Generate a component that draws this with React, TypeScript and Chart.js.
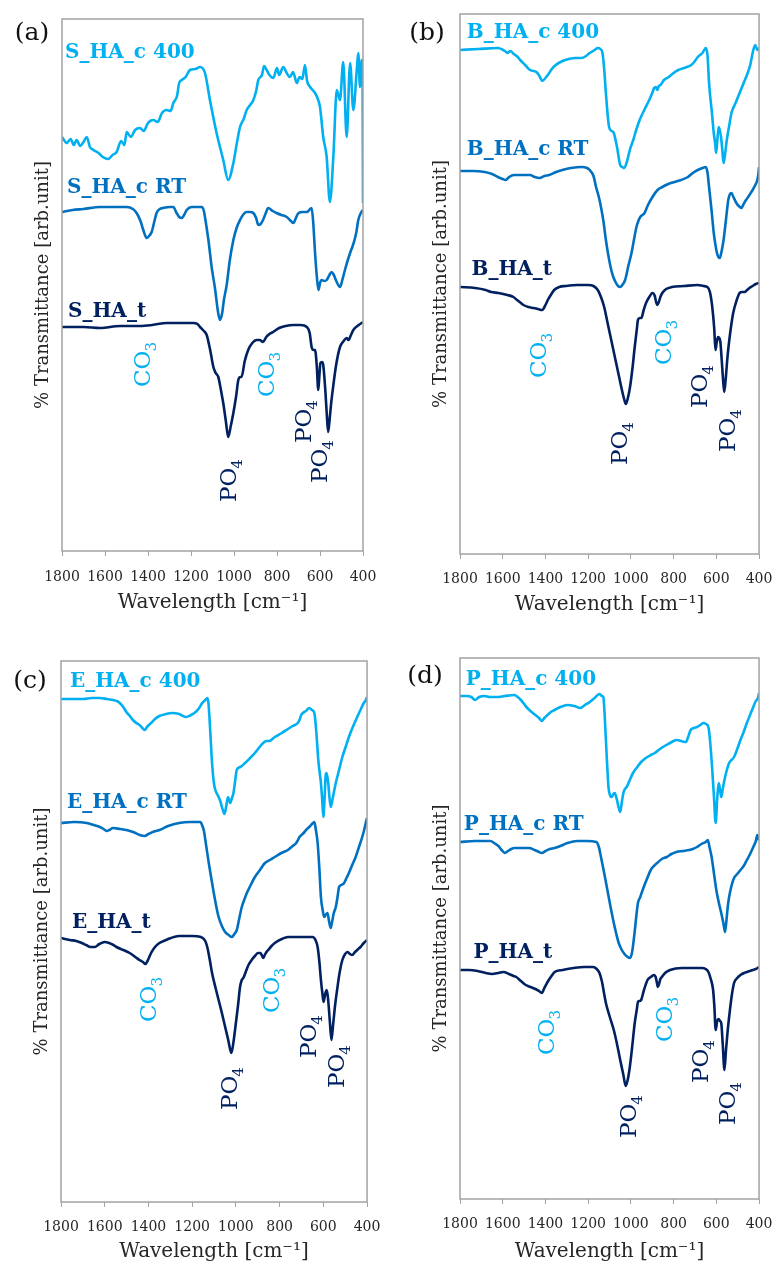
import React, { useEffect, useRef } from 'react';
import { Chart, registerables } from 'chart.js';

Chart.register(...registerables);

type Pt = [number, number];

// ---------- axis ----------
const X_MIN = 400;
const X_MAX = 1800;
const X_STEP = 200;

// ---------- series names ----------
const NAMES_A = ['S_HA_c 400', 'S_HA_c RT', 'S_HA_t'];
const NAMES_B = ['B_HA_c 400', 'B_HA_c RT', 'B_HA_t'];
const NAMES_C = ['E_HA_c 400', 'E_HA_c RT', 'E_HA_t'];
const NAMES_D = ['P_HA_c 400', 'P_HA_c RT', 'P_HA_t'];

// ---------- panel (a) ----------
const S_HA_C400: Pt[] = [[1800,414],[1778,408],[1760,412],[1745,406],[1732,411],[1715,405],[1700,409],[1685,414],[1670,404],[1654,401],[1630,398],[1610,394],[1585,392],[1565,396],[1546,399],[1525,410],[1510,406],[1499,419],[1480,414],[1460,421],[1437,423],[1420,420],[1400,428],[1375,431],[1355,429],[1335,438],[1313,441],[1295,440],[1282,448],[1265,455],[1255,468],[1243,471],[1225,474],[1205,481],[1180,482],[1158,484],[1135,478],[1112,451],[1081,418],[1050,391],[1027,371],[1003,388],[985,410],[972,424],[955,432],[941,441],[925,446],[910,451],[897,460],[887,471],[870,476],[860,485],[848,481],[835,476],[817,473],[800,483],[790,476],[771,484],[755,478],[740,474],[725,479],[708,468],[695,474],[682,472],[670,486],[660,470],[646,464],[623,458],[610,452],[600,444],[585,414],[569,394],[554,349],[538,394],[522,461],[507,451],[492,489],[476,414],[460,488],[445,441],[429,481],[422,498],[414,464],[406,491],[402,470],[400,348]];
const S_HA_CRT: Pt[] = [[1800,339],[1750,341],[1701,342],[1623,344],[1550,344],[1499,344],[1470,342],[1453,338],[1435,330],[1422,321],[1406,313],[1395,315],[1383,319],[1370,330],[1360,338],[1345,342],[1329,343],[1300,344],[1282,344],[1267,338],[1255,334],[1243,333],[1232,336],[1220,341],[1197,344],[1170,344],[1150,344],[1140,340],[1135,334],[1119,311],[1104,284],[1088,262],[1075,240],[1065,231],[1055,238],[1047,251],[1034,266],[1020,290],[1003,311],[988,323],[972,331],[955,337],[941,339],[925,339],[910,338],[897,333],[887,326],[876,327],[865,331],[852,338],[841,343],[820,340],[802,338],[780,336],[755,334],[740,331],[724,328],[712,333],[700,338],[680,339],[661,339],[650,341],[639,343],[632,330],[623,298],[615,275],[607,261],[600,268],[592,271],[580,270],[569,271],[556,276],[546,279],[538,277],[530,273],[520,268],[507,264],[495,272],[484,281],[472,290],[460,298],[448,305],[437,313],[430,320],[422,331],[410,338],[400,341]];
const S_HA_T: Pt[] = [[1800,224],[1700,224],[1623,223],[1530,225],[1437,225],[1380,226],[1313,228],[1250,228],[1190,228],[1170,227],[1158,224],[1140,220],[1127,216],[1110,200],[1096,184],[1085,178],[1073,174],[1060,160],[1050,148],[1038,130],[1027,114],[1015,125],[1003,138],[990,155],[980,171],[970,174],[965,174],[950,190],[934,201],[915,208],[895,211],[880,211],[865,209],[850,214],[835,217],[818,219],[790,223],[760,225],[724,226],[690,226],[661,224],[648,218],[639,204],[630,201],[623,201],[615,185],[608,161],[603,175],[598,188],[591,189],[585,186],[575,160],[568,135],[562,119],[555,132],[548,148],[539,164],[525,186],[507,204],[490,210],[476,213],[468,211],[456,216],[445,221],[420,226],[400,229]];

// ---------- panel (b) ----------
const B_HA_C400: Pt[] = [[1800,504],[1714,505],[1623,506],[1590,503],[1578,501],[1565,503],[1548,500],[1530,497],[1518,494],[1495,489],[1472,484],[1455,483],[1442,482],[1428,478],[1415,473],[1400,476],[1389,479],[1370,485],[1352,489],[1320,493],[1291,495],[1260,496],[1231,496],[1210,498],[1193,501],[1170,504],[1155,506],[1143,505],[1133,501],[1125,485],[1117,461],[1102,427],[1090,423],[1080,421],[1065,407],[1050,389],[1040,387],[1031,386],[1019,392],[1005,404],[989,414],[975,424],[959,434],[935,445],[914,454],[900,461],[891,466],[883,467],[876,464],[869,468],[861,469],[845,474],[823,477],[800,481],[778,484],[750,486],[717,489],[700,493],[687,497],[665,501],[649,506],[641,498],[634,471],[620,440],[612,421],[605,410],[601,401],[596,412],[589,427],[584,424],[578,417],[572,404],[566,391],[559,400],[551,414],[540,428],[529,441],[510,451],[491,461],[472,471],[453,481],[440,490],[430,501],[418,509],[412,506],[408,504],[400,506]];
const B_HA_CRT: Pt[] = [[1800,383],[1740,383],[1684,382],[1650,380],[1623,377],[1600,375],[1586,374],[1570,377],[1548,379],[1500,379],[1472,379],[1450,377],[1427,376],[1405,378],[1382,379],[1350,382],[1321,384],[1280,386],[1231,387],[1205,386],[1193,384],[1175,378],[1163,367],[1150,357],[1140,347],[1128,332],[1117,314],[1105,298],[1095,287],[1084,278],[1072,272],[1060,268],[1050,267],[1040,269],[1027,274],[1012,288],[997,301],[985,315],[974,327],[965,333],[956,337],[946,339],[936,341],[920,349],[899,357],[875,364],[853,367],[825,370],[796,372],[765,374],[733,377],[710,381],[687,384],[665,386],[649,387],[641,381],[634,367],[622,343],[612,321],[604,309],[597,301],[590,297],[584,296],[575,303],[566,314],[555,334],[544,354],[536,360],[529,361],[520,357],[506,351],[495,348],[483,346],[472,350],[461,354],[445,359],[430,364],[420,368],[408,374],[403,380],[400,387]];
const B_HA_T: Pt[] = [[1800,267],[1729,266],[1680,264],[1654,262],[1620,261],[1578,259],[1550,257],[1533,254],[1515,251],[1503,249],[1480,247],[1457,246],[1435,245],[1415,244],[1400,249],[1389,254],[1375,259],[1359,264],[1335,267],[1306,268],[1250,269],[1200,269],[1175,268],[1155,264],[1140,257],[1125,247],[1110,232],[1095,217],[1080,202],[1065,187],[1053,175],[1042,164],[1033,156],[1024,150],[1014,156],[1004,167],[993,185],[982,207],[972,225],[967,234],[958,236],[951,236],[940,244],[929,251],[914,257],[899,261],[888,258],[882,252],[876,249],[869,252],[862,257],[853,261],[835,265],[808,267],[750,268],[687,269],[660,268],[642,267],[630,262],[619,247],[610,226],[604,204],[598,212],[592,217],[586,216],[581,212],[575,195],[569,176],[563,162],[556,175],[549,194],[543,207],[532,226],[521,241],[506,253],[491,261],[480,262],[468,262],[456,264],[445,266],[430,268],[415,270],[400,271]];

// ---------- panel (c) ----------
const E_HA_C400: Pt[] = [[1800,503],[1750,503],[1697,503],[1660,504],[1622,504],[1590,503],[1562,502],[1545,501],[1531,499],[1515,495],[1501,490],[1485,486],[1471,482],[1455,479],[1441,477],[1428,474],[1418,472],[1403,476],[1388,479],[1370,483],[1350,486],[1320,488],[1290,489],[1260,488],[1230,485],[1205,487],[1184,490],[1168,494],[1154,499],[1140,502],[1131,504],[1126,500],[1121,485],[1115,462],[1109,439],[1100,418],[1094,412],[1086,408],[1079,405],[1070,400],[1064,395],[1058,391],[1052,388],[1044,396],[1036,405],[1031,402],[1026,399],[1018,404],[1011,409],[1004,420],[996,432],[980,435],[958,439],[935,444],[913,449],[895,454],[875,459],[860,461],[848,461],[822,465],[790,469],[762,473],[740,476],[717,479],[709,482],[701,487],[680,491],[664,494],[652,492],[641,489],[632,470],[623,442],[617,430],[611,419],[605,402],[600,385],[594,405],[589,427],[585,429],[578,420],[572,405],[566,395],[556,405],[543,419],[528,432],[513,445],[498,455],[483,465],[465,475],[445,485],[430,492],[415,499],[408,501],[400,505]];
const E_HA_CRT: Pt[] = [[1800,379],[1740,380],[1682,379],[1650,377],[1622,375],[1605,373],[1592,371],[1578,372],[1562,374],[1530,373],[1501,372],[1470,370],[1440,367],[1418,366],[1400,368],[1380,370],[1350,372],[1310,376],[1260,379],[1210,380],[1162,380],[1155,377],[1147,372],[1135,355],[1124,339],[1112,323],[1101,309],[1090,296],[1079,285],[1064,276],[1049,270],[1033,267],[1018,265],[1007,268],[996,272],[985,283],[973,295],[962,302],[950,309],[932,317],[913,325],[890,332],[867,339],[845,342],[822,345],[792,349],[762,352],[740,356],[724,359],[716,362],[709,365],[690,369],[675,373],[664,375],[652,378],[641,380],[634,372],[626,359],[618,333],[611,305],[603,292],[596,285],[590,287],[581,289],[574,281],[566,274],[560,280],[552,289],[543,295],[535,305],[528,315],[518,317],[505,319],[494,324],[483,329],[468,337],[452,345],[437,355],[422,365],[412,373],[405,380],[400,384]];
const E_HA_T: Pt[] = [[1800,264],[1760,262],[1730,261],[1705,259],[1685,257],[1665,255],[1645,255],[1625,258],[1600,260],[1580,259],[1560,257],[1546,255],[1515,252],[1486,249],[1460,245],[1441,242],[1425,240],[1414,238],[1400,243],[1388,249],[1370,255],[1350,259],[1320,262],[1260,266],[1200,266],[1160,265],[1140,261],[1131,255],[1120,243],[1109,229],[1094,215],[1079,202],[1064,189],[1049,175],[1035,162],[1021,149],[1011,160],[1000,179],[990,197],[981,215],[973,222],[966,224],[950,233],[940,238],[928,242],[913,246],[898,249],[887,249],[880,246],[875,244],[868,247],[860,250],[852,252],[837,256],[822,259],[790,263],[762,265],[700,265],[649,265],[636,262],[626,255],[618,240],[611,222],[605,210],[599,200],[594,205],[589,210],[584,212],[577,200],[570,180],[563,162],[555,178],[546,197],[537,212],[525,230],[513,242],[500,248],[490,250],[478,248],[468,247],[455,250],[440,253],[430,255],[415,259],[400,262]];

// ---------- panel (d) ----------
const P_HA_C400: Pt[] = [[1800,503],[1770,503],[1747,502],[1730,499],[1710,502],[1687,503],[1660,502],[1627,502],[1590,503],[1545,504],[1530,502],[1515,499],[1500,495],[1485,491],[1465,487],[1447,484],[1430,481],[1417,478],[1405,481],[1395,483],[1375,487],[1357,489],[1330,492],[1297,494],[1265,493],[1237,491],[1215,494],[1192,497],[1170,501],[1147,505],[1135,503],[1129,502],[1123,485],[1117,459],[1110,430],[1105,412],[1098,404],[1090,402],[1082,405],[1075,406],[1069,402],[1065,399],[1058,392],[1050,387],[1043,396],[1035,406],[1028,410],[1020,412],[1005,419],[990,426],[970,432],[952,437],[930,441],[907,444],[888,446],[870,449],[850,452],[817,456],[800,458],[787,459],[765,458],[742,457],[732,462],[720,469],[705,471],[690,472],[675,474],[660,476],[648,475],[637,472],[628,455],[619,429],[611,402],[603,376],[596,400],[589,416],[583,410],[577,402],[570,410],[562,419],[552,428],[540,436],[517,442],[502,450],[487,459],[472,467],[457,476],[442,484],[427,492],[415,498],[405,501],[400,506]];
const P_HA_CRT: Pt[] = [[1800,357],[1730,358],[1657,358],[1640,356],[1620,353],[1605,349],[1590,346],[1575,348],[1560,350],[1545,351],[1510,351],[1477,351],[1450,349],[1430,347],[1417,346],[1400,348],[1380,350],[1357,351],[1330,353],[1297,356],[1250,358],[1207,358],[1162,357],[1150,352],[1140,342],[1125,326],[1110,309],[1095,292],[1080,276],[1067,264],[1057,256],[1045,250],[1030,245],[1015,242],[1005,241],[995,246],[985,262],[975,282],[967,296],[956,302],[945,309],[925,320],[907,329],[892,333],[877,336],[855,340],[832,342],[810,345],[787,347],[757,348],[727,349],[710,350],[690,352],[670,355],[650,357],[640,359],[631,351],[622,342],[610,324],[600,309],[588,296],[577,286],[567,276],[559,267],[552,280],[546,293],[540,302],[528,314],[517,321],[502,325],[487,329],[472,333],[457,339],[442,345],[427,352],[415,358],[408,364],[403,360],[400,359]];
const P_HA_T: Pt[] = [[1800,229],[1760,229],[1717,228],[1680,226],[1650,225],[1620,226],[1597,227],[1570,225],[1550,223],[1537,222],[1515,218],[1492,214],[1470,212],[1447,210],[1430,208],[1417,206],[1405,211],[1390,217],[1375,222],[1357,227],[1320,229],[1267,231],[1220,232],[1177,232],[1160,230],[1147,226],[1135,217],[1125,205],[1117,196],[1100,183],[1080,169],[1065,155],[1050,139],[1036,125],[1024,113],[1014,120],[1005,132],[994,152],[982,176],[972,190],[967,197],[960,198],[952,199],[940,208],[922,219],[907,222],[892,224],[884,222],[878,216],[874,212],[868,215],[862,220],[855,222],[840,226],[817,229],[760,231],[700,231],[667,231],[650,230],[637,227],[626,220],[615,209],[609,192],[603,169],[596,178],[589,180],[583,178],[577,176],[570,155],[562,129],[555,148],[547,168],[540,182],[528,203],[517,216],[502,221],[487,224],[470,226],[457,227],[430,229],[415,230],[400,232]];

// ---------- styles ----------
const SERIES_COLORS = ['#00B0F0', '#0070C0', '#002060'];
const CO3_COLOR = '#00B0F0';
const PO4_COLOR = '#002060';
const AXIS_GRAY = '#a3a3a3';
const TEXT_COLOR = '#262626';
const SERIF = '"DejaVu Serif", "Liberation Serif", serif';

interface Peak { main: string; sub: string; wn: number; v: number; color: string; }
interface PanelCfg {
  letter: string;
  letterPos: [number, number];
  canvas: { left: number; top: number; width: number; height: number };
  area: { left: number; top: number; right: number; bottom: number };
  yMax: number;
  series: Pt[][];
  names: string[];
  namePos: Pt[];
  peaks: Peak[];
  yTitleX: number;
  tickY: number;
  xTitleY: number;
}

const co = (wn: number, v: number): Peak => ({ main: 'CO', sub: '3', wn, v, color: CO3_COLOR });
const po = (wn: number, v: number): Peak => ({ main: 'PO', sub: '4', wn, v, color: PO4_COLOR });

const PANELS: PanelCfg[] = [
  {
    letter: '(a)', letterPos: [32, 32],
    canvas: { left: 0, top: 0, width: 392, height: 630 },
    area: { left: 62, top: 19, right: 363, bottom: 551 },
    yMax: 532,
    series: [S_HA_C400, S_HA_CRT, S_HA_T], names: NAMES_A,
    namePos: [[1786, 498], [1777, 363], [1772, 239]],
    peaks: [co(1428, 164), co(851, 154), po(1028, 49), po(679, 108), po(605, 68)],
    yTitleX: 43, tickY: 577, xTitleY: 603,
  },
  {
    letter: '(b)', letterPos: [427, 32],
    canvas: { left: 392, top: 0, width: 392, height: 630 },
    area: { left: 460, top: 14, right: 769, bottom: 554 },
    yMax: 540,
    series: [B_HA_C400, B_HA_CRT, B_HA_T], names: NAMES_B,
    namePos: [[1768, 521], [1768, 404], [1746, 284]],
    peaks: [co(1437, 176), co(853, 189), po(1057, 89), po(681, 146), po(554, 102)],
    yTitleX: 441, tickY: 579, xTitleY: 605,
  },
  {
    letter: '(c)', letterPos: [30, 680],
    canvas: { left: 0, top: 630, width: 392, height: 636 },
    area: { left: 61, top: 661, right: 370, bottom: 1202 },
    yMax: 541,
    series: [E_HA_C400, E_HA_CRT, E_HA_T], names: NAMES_C,
    namePos: [[1759, 520], [1773, 399], [1750, 279]],
    peaks: [co(1406, 180), co(840, 189), po(1034, 92), po(672, 144), po(545, 114)],
    yTitleX: 42, tickY: 1227, xTitleY: 1252,
  },
  {
    letter: '(d)', letterPos: [425, 675],
    canvas: { left: 392, top: 630, width: 392, height: 636 },
    area: { left: 460, top: 658, right: 771, bottom: 1199 },
    yMax: 541,
    series: [P_HA_C400, P_HA_CRT, P_HA_T], names: NAMES_D,
    namePos: [[1773, 519], [1782, 374], [1737, 246]],
    peaks: [co(1399, 144), co(846, 157), po(1017, 61), po(679, 116), po(553, 74)],
    yTitleX: 441, tickY: 1224, xTitleY: 1252,
  },
];

const TICK_SIZE = 14;
const TICK_LEN = 5;
const X_TITLE_SIZE = 20;
const Y_TITLE_SIZE = 18;
const NAME_SIZE = 20;
const PEAK_SIZE = 23;
const SUB_SIZE = 15;
const LINE_WIDTH = 2.6;

function Panel({ cfg }: { cfg: PanelCfg }) {
  const ref = useRef<HTMLCanvasElement | null>(null);
  const { canvas } = cfg;

  useEffect(() => {
    if (!ref.current) return;
    const W = canvas.width;
    const H = canvas.height;
    const aL = cfg.area.left - canvas.left;
    const aT = cfg.area.top - canvas.top;
    const aR = cfg.area.right - canvas.left;
    const aB = cfg.area.bottom - canvas.top;
    const tickPad = cfg.tickY - cfg.area.bottom - TICK_LEN - (TICK_SIZE * 1.2) / 2;
    const xTitlePad = H - (cfg.xTitleY - canvas.top) - (X_TITLE_SIZE * 1.2) / 2;
    const yTitlePad = cfg.yTitleX - canvas.left - (Y_TITLE_SIZE * 1.2) / 2;

    const decor = {
      id: 'decor',
      afterDatasetsDraw(chart: any) {
        const { ctx, chartArea: a } = chart;
        const xs = chart.scales.x;
        const ys = chart.scales.y;
        ctx.save();
        ctx.strokeStyle = AXIS_GRAY;
        ctx.lineWidth = 1.5;
        ctx.strokeRect(a.left, a.top, a.right - a.left, a.bottom - a.top);

        ctx.font = `bold ${NAME_SIZE}px ${SERIF}`;
        ctx.textAlign = 'left';
        ctx.textBaseline = 'middle';
        cfg.names.forEach((n, i) => {
          ctx.fillStyle = SERIES_COLORS[i];
          ctx.fillText(n, xs.getPixelForValue(cfg.namePos[i][0]), ys.getPixelForValue(cfg.namePos[i][1]));
        });

        cfg.peaks.forEach((p) => {
          const px = xs.getPixelForValue(p.wn);
          const py = ys.getPixelForValue(p.v);
          ctx.save();
          ctx.translate(px + 0.365 * PEAK_SIZE, py);
          ctx.rotate(-Math.PI / 2);
          ctx.fillStyle = p.color;
          ctx.textAlign = 'left';
          ctx.textBaseline = 'alphabetic';
          ctx.font = `${PEAK_SIZE}px ${SERIF}`;
          ctx.fillText(p.main, 0, 0);
          const w = ctx.measureText(p.main).width;
          ctx.font = `${SUB_SIZE}px ${SERIF}`;
          ctx.fillText(p.sub, w - 1, 6);
          ctx.restore();
        });
        ctx.restore();
      },
    };

    const chart = new Chart(ref.current, {
      type: 'line',
      data: {
        datasets: cfg.series.map((s, i) => ({
          label: cfg.names[i],
          data: s.map(([x, y]) => ({ x, y })),
          borderColor: SERIES_COLORS[i],
          backgroundColor: SERIES_COLORS[i],
          borderWidth: LINE_WIDTH,
          pointRadius: 0,
          cubicInterpolationMode: 'monotone' as const,
          fill: false,
        })),
      },
      options: {
        animation: false,
        responsive: false,
        maintainAspectRatio: false,
        events: [],
        layout: { padding: { left: 0, top: aT, right: W - aR, bottom: 0 } },
        plugins: { legend: { display: false }, tooltip: { enabled: false } },
        scales: {
          x: {
            type: 'linear',
            min: X_MIN,
            max: X_MAX,
            reverse: true,
            ticks: {
              stepSize: X_STEP,
              autoSkip: false,
              maxRotation: 0,
              padding: tickPad,
              color: TEXT_COLOR,
              font: { family: SERIF, size: TICK_SIZE },
              callback: (v: any) => String(v),
            },
            grid: { display: true, drawOnChartArea: false, drawTicks: true, tickLength: TICK_LEN, color: AXIS_GRAY, lineWidth: 1 },
            border: { display: false },
            title: {
              display: true,
              text: 'Wavelength [cm⁻¹]',
              color: TEXT_COLOR,
              font: { family: SERIF, size: X_TITLE_SIZE },
              padding: { top: 0, bottom: xTitlePad },
            },
            afterFit: (s: any) => { s.height = H - aB; },
          },
          y: {
            type: 'linear',
            min: 0,
            max: cfg.yMax,
            ticks: { display: false },
            grid: { display: false },
            border: { display: false },
            title: {
              display: true,
              text: '% Transmittance [arb.unit]',
              color: TEXT_COLOR,
              font: { family: SERIF, size: Y_TITLE_SIZE },
              padding: { top: yTitlePad, bottom: 0 },
            },
            afterFit: (s: any) => { s.width = aL; },
          },
        },
      },
      plugins: [decor],
    } as any);
    return () => chart.destroy();
  }, [cfg]);

  return (
    <canvas
      ref={ref}
      width={canvas.width}
      height={canvas.height}
      style={{ position: 'absolute', left: canvas.left, top: canvas.top, width: canvas.width, height: canvas.height }}
    />
  );
}

export default function App() {
  return (
    <div style={{ position: 'absolute', left: 0, top: 0, width: 784, height: 1266, background: '#fff', overflow: 'hidden' }}>
      {PANELS.map((p) => (
        <Panel key={p.letter} cfg={p} />
      ))}
      {PANELS.map((p) => (
        <div
          key={'l' + p.letter}
          style={{
            position: 'absolute',
            left: p.letterPos[0] - 30,
            top: p.letterPos[1] - 15,
            width: 60,
            height: 30,
            lineHeight: '30px',
            textAlign: 'center',
            fontFamily: SERIF,
            fontSize: 25,
            color: '#111',
          }}
        >
          {p.letter}
        </div>
      ))}
    </div>
  );
}
